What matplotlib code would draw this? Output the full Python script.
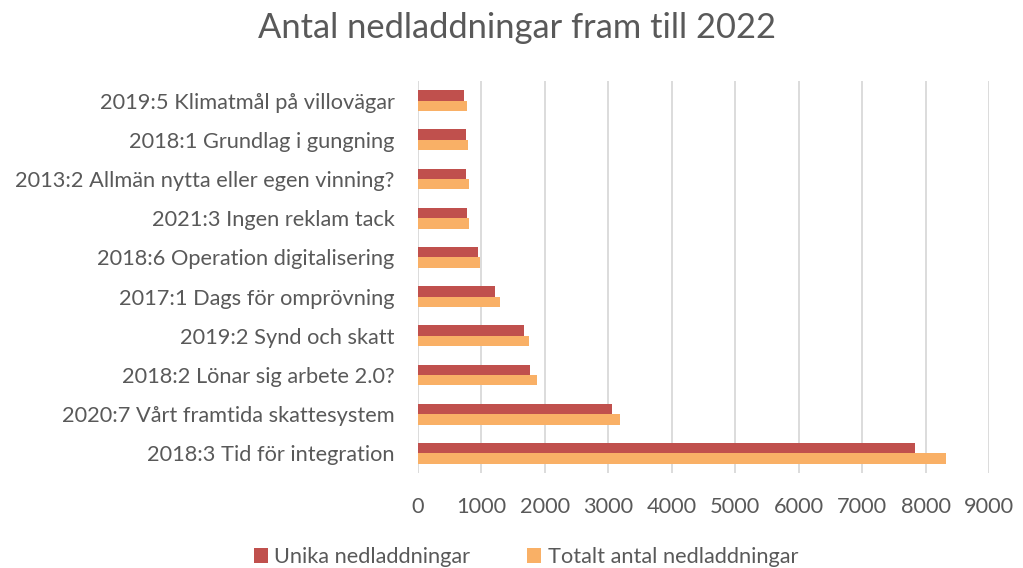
import matplotlib
matplotlib.use("Agg")
import matplotlib.pyplot as plt
import numpy as np

plt.rcParams['font.family'] = ['Lato', 'DejaVu Sans']

# data, top to bottom as in the chart
titles = [
    "2019:5 Klimatmål på villovägar",
    "2018:1 Grundlag i gungning",
    "2013:2 Allmän nytta eller egen vinning?",
    "2021:3 Ingen reklam tack",
    "2018:6 Operation digitalisering",
    "2017:1 Dags för omprövning",
    "2019:2 Synd och skatt",
    "2018:2 Lönar sig arbete 2.0?",
    "2020:7 Vårt framtida skattesystem",
    "2018:3 Tid för integration",
]
unika = [730, 752, 752, 773, 941, 1219, 1672, 1772, 3060, 7836]
totalt = [770, 789, 805, 805, 983, 1288, 1751, 1872, 3186, 8320]
xticks = [0, 1000, 2000, 3000, 4000, 5000, 6000, 7000, 8000, 9000]

red = '#c0504d'
orange = '#f9b066'
grey = '#595959'

fig = plt.figure(figsize=(10.23, 5.68), dpi=100)
ax = fig.add_axes([418 / 1023, 1 - 473 / 568, (989 - 418) / 1023, (473 - 81) / 568])

y = np.arange(len(titles))
h = 0.263
ax.barh(y - h / 2, unika, height=h, color=red, label='Unika nedladdningar', zorder=3)
ax.barh(y + h / 2, totalt, height=h, color=orange, label='Totalt antal nedladdningar', zorder=3)

ax.set_ylim(len(titles) - 0.5, -0.5)
ax.set_xlim(0, 9000)
ax.set_xticks(xticks)
ax.set_yticks(y)
ax.set_yticklabels(titles)
ax.tick_params(axis='both', length=0, labelsize=15.7, colors=grey)
ax.tick_params(axis='y', pad=17)
ax.tick_params(axis='x', pad=17)
ax.grid(axis='x', color='#d9d9d9', linewidth=1.3, zorder=0)
for s in ax.spines.values():
    s.set_visible(False)

fig.text(0.505, 1 - 28 / 568, 'Antal nedladdningar fram till 2022', ha='center', va='center',
         fontsize=24.8, color=grey)

handles, labels = ax.get_legend_handles_labels()
fig.legend(handles, labels, loc='center', bbox_to_anchor=(0.514, 1 - 557 / 568), ncol=2,
           frameon=False, fontsize=15.7, labelcolor=grey, handlelength=0.65, handleheight=0.65,
           handletextpad=0.3, columnspacing=2.6)

fig.savefig('out.png', dpi=100)
